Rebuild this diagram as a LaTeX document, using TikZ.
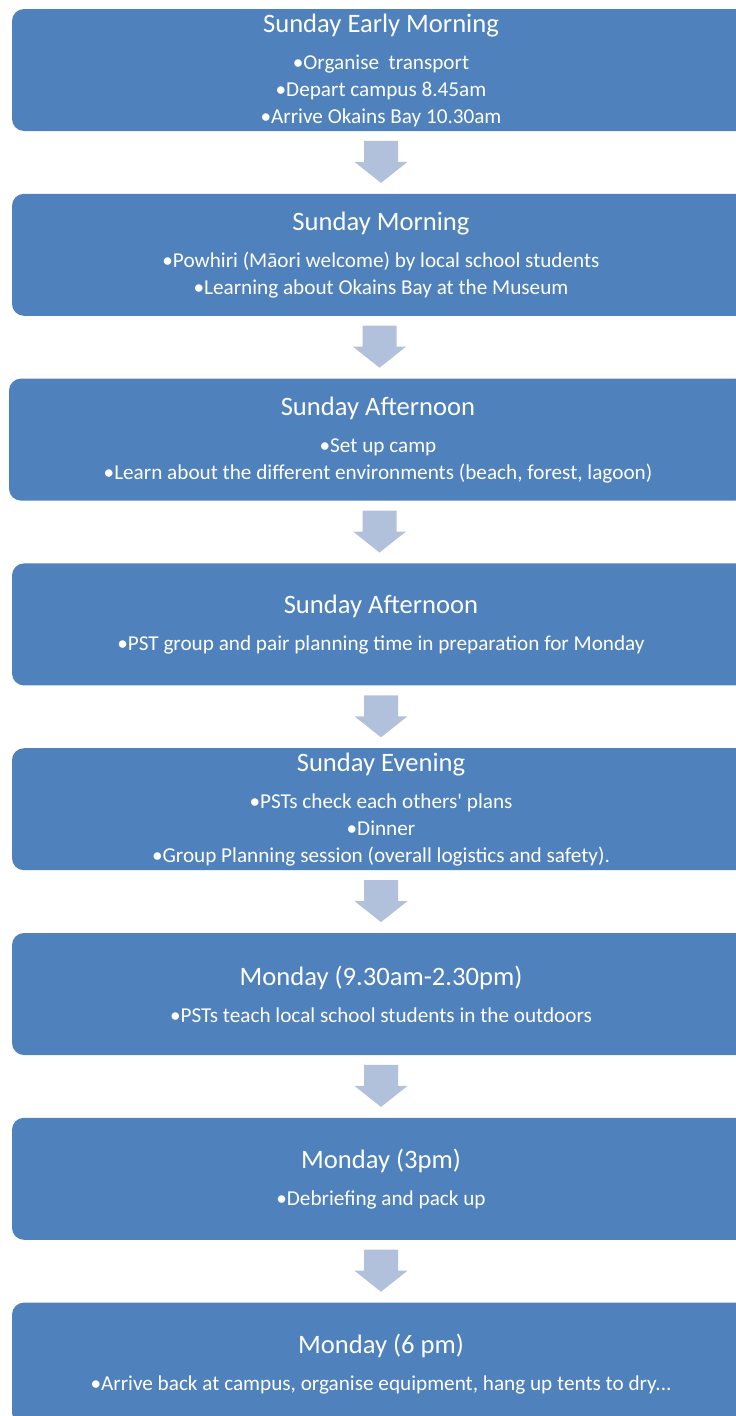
\documentclass[tikz,border=0pt]{standalone}
\usepackage{fontspec}
\setmainfont{Carlito}
\usetikzlibrary{calc}
\definecolor{boxblue}{HTML}{4F81BD}
\definecolor{arrowblue}{HTML}{B2C1DB}
\newcommand\steptitle[1]{{\fontsize{26.6}{27}\selectfont #1}\\[10pt]}

\begin{document}
\begin{tikzpicture}
[x=1pt, y=-1pt,%
  boxDecorate/.style={shape=rectangle, rounded corners=12pt, fill=boxblue,
    text=white, align=center, minimum width=738pt, minimum height=122pt,
    inner sep=0pt, font=\fontsize{21.2}{27}\selectfont},%
  arrowDecorate/.style={fill=arrowblue, draw=none}]
\useasboundingbox (0,0) rectangle (736,1416);
\clip (0,0) rectangle (736,1416);
%% steps
\foreach \nodename/\xpos/\ypos/\content in {
  b1/381/70/{\steptitle{Sunday Early Morning}%
    •Organise~ transport\\•Depart campus 8.45am\\•Arrive Okains Bay 10.30am},
  b2/381/254.8/{\steptitle{Sunday Morning}%
    •Powhiri (Māori welcome) by local school students\\•Learning about Okains Bay at the Museum},
  b3/378/439.6/{\steptitle{Sunday Afternoon}%
    •Set up camp\\•Learn about the different environments (beach, forest, lagoon)},
  b4/381/624.4/{\steptitle{Sunday Afternoon}%
    •PST group and pair planning time in preparation for Monday},
  b5/381/809.2/{\steptitle{Sunday Evening}%
    •PSTs check each others\textquotesingle{} plans\\•Dinner\\•Group Planning session (overall logistics and safety).},
  b6/381/994/{\steptitle{Monday (9.30am-2.30pm)}%
    •PSTs teach local school students in the outdoors},
  b7/381/1178.8/{\steptitle{Monday (3pm)}%
    •Debriefing and pack up},
  b8/381/1363.6/{\steptitle{Monday (6 pm)}%
    •Arrive back at campus, organise equipment, hang up tents to dry...}}
{
  \node (\nodename) at (\xpos,\ypos) [boxDecorate] {\content};
}
%% arrows between steps
\foreach \startnode/\endnode in {b1/b2, b2/b3, b3/b4, b4/b5, b5/b6, b6/b7, b7/b8}
{
  \coordinate (\startnode-\endnode) at ($(\startnode.south)!0.5!(\endnode.north)$);
  \fill[arrowDecorate] ([xshift=-17pt,yshift=21.5pt]\startnode-\endnode)
    -- ([xshift=-17pt,yshift=0.5pt]\startnode-\endnode)
    -- ([xshift=-26.5pt,yshift=0.5pt]\startnode-\endnode)
    -- ([yshift=-20.5pt]\startnode-\endnode)
    -- ([xshift=26.5pt,yshift=0.5pt]\startnode-\endnode)
    -- ([xshift=17pt,yshift=0.5pt]\startnode-\endnode)
    -- ([xshift=17pt,yshift=21.5pt]\startnode-\endnode) -- cycle;
}
\end{tikzpicture}
\end{document}
